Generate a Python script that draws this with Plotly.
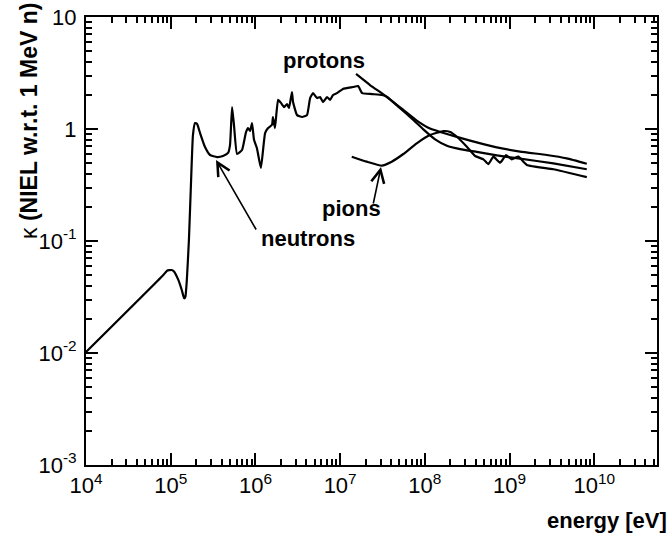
import plotly.graph_objects as go

# Neutron damage function (energy in eV, kappa relative to 1 MeV neutrons)
neutron_energy = [1.0e4, 8.18e4, 9.04e4, 1.03e5, 1.10e5, 1.23e5, 1.35e5, 1.44e5, 1.49e5, 1.55e5,
                  1.64e5, 1.74e5, 1.83e5, 1.94e5, 2.05e5, 2.22e5, 2.54e5, 2.91e5, 3.52e5, 4.14e5,
                  4.75e5, 5.01e5, 5.30e5, 5.58e5, 6.07e5, 6.95e5, 7.74e5, 8.18e5, 8.63e5, 9.12e5,
                  9.62e5, 1.04e6, 1.16e6, 1.30e6, 1.41e6, 1.57e6, 1.61e6, 1.70e6, 1.85e6, 2.00e6,
                  2.18e6, 2.36e6, 2.49e6, 2.70e6, 2.78e6, 3.10e6, 3.55e6, 4.06e6, 4.42e6, 4.79e6,
                  5.33e6, 5.79e6, 6.28e6, 7.00e6, 7.60e6, 8.24e6, 9.18e6, 1.08e7, 1.42e7, 1.63e7,
                  1.82e7, 2.38e7, 3.13e7, 3.58e7, 5.01e7, 7.08e7, 9.59e7, 1.32e8, 1.82e8, 2.61e8,
                  4.10e8, 7.06e8, 1.33e9, 3.29e9, 8.15e9]
neutron_kappa = [0.0102, 0.0497, 0.0543, 0.0551, 0.0532, 0.0449, 0.0365, 0.0308, 0.0318, 0.0449,
                 0.102, 0.351, 0.883, 1.13, 1.11, 0.92, 0.69, 0.586, 0.562, 0.574,
                 0.611, 0.719, 1.57, 1.09, 0.598, 0.649, 0.94, 1.02, 0.96, 1.13,
                 0.80, 0.676, 0.449, 0.92, 1.02, 1.09, 1.28, 1.02, 1.82, 1.71,
                 1.57, 1.67, 1.54, 2.14, 1.74, 1.33, 1.28, 1.33, 1.89, 2.09,
                 1.89, 1.93, 1.74, 1.93, 1.82, 2.01, 2.09, 2.28, 2.37, 2.42,
                 2.09, 2.05, 2.01, 1.93, 1.55, 1.23, 0.993, 0.809, 0.710, 0.662,
                 0.624, 0.582, 0.543, 0.493, 0.437]

# Proton damage function
proton_energy = [1.54e7, 2.25e7, 3.55e7, 5.57e7, 8.02e7, 1.15e8, 1.82e8, 3.42e8, 7.06e8,
                 1.33e9, 2.75e9, 4.73e9, 8.15e9]
proton_kappa = [3.10, 2.47, 1.94, 1.48, 1.19, 1.01, 0.902, 0.787, 0.686,
                0.628, 0.586, 0.547, 0.49]

# Pion damage function
pion_energy = [1.37e7, 2.06e7, 3.10e7, 4.06e7, 5.57e7, 8.02e7, 1.15e8, 1.66e8, 1.99e8, 2.38e8,
               3.13e8, 3.92e8, 4.91e8, 5.62e8, 6.44e8, 7.73e8, 9.10e8, 1.06e9, 1.27e9, 1.60e9,
               3.29e9, 8.15e9]
pion_kappa = [0.566, 0.511, 0.471, 0.511, 0.598, 0.745, 0.883, 0.959, 0.94, 0.853,
              0.695, 0.574, 0.536, 0.486, 0.566, 0.500, 0.586, 0.536, 0.566, 0.478,
              0.437, 0.372]

# Axis decades and labels
x_decades = [4, 5, 6, 7, 8, 9, 10]
x_ticktext = ["10<sup>4</sup>", "10<sup>5</sup>", "10<sup>6</sup>", "10<sup>7</sup>",
              "10<sup>8</sup>", "10<sup>9</sup>", "10<sup>10</sup>"]
y_decades = [-3, -2, -1, 0, 1]
y_ticktext = ["10<sup>-3</sup>", "10<sup>-2</sup>", "10<sup>-1</sup>", "1", "10"]

# Axis extents (log10 of energy in eV, log10 of kappa)
x_log_range = [4, 10.74]
y_log_range = [-3, 1]

line_style = dict(color="black", width=2.2)

fig = go.Figure()
for name, xs, ys in [("neutrons", neutron_energy, neutron_kappa),
                     ("protons", proton_energy, proton_kappa),
                     ("pions", pion_energy, pion_kappa)]:
    fig.add_trace(go.Scatter(x=xs, y=ys, mode="lines", name=name,
                             line=dict(shape="spline", smoothing=0.4, **line_style),
                             showlegend=False))

tick_font = dict(family="Liberation Sans, Arial, sans-serif", size=22, color="black")
label_font = dict(family="Liberation Sans, Arial, sans-serif", size=22, color="black")

common_axis = dict(type="log", showgrid=False, zeroline=False, showline=True,
                   linecolor="black", linewidth=2, mirror="ticks",
                   ticks="inside", ticklen=12, tickwidth=2, tickcolor="black",
                   tickfont=tick_font,
                   minor=dict(ticks="inside", tickmode="linear", dtick="D1",
                              ticklen=6, tickwidth=1.8, tickcolor="black", showgrid=False))

fig.update_xaxes(range=x_log_range, tickmode="array",
                 tickvals=[10 ** d for d in x_decades], ticktext=x_ticktext, **common_axis)
fig.update_yaxes(range=y_log_range, tickmode="array",
                 tickvals=[10 ** d for d in y_decades], ticktext=y_ticktext,
                 ticklabelstandoff=3, **common_axis)

annotations = [
    # curve labels
    dict(text="<b>protons</b>", x=324, y=61, showarrow=False),
    dict(text="<b>pions</b>", x=351, y=208, showarrow=False),
    dict(text="<b>neutrons</b>", x=308, y=238, showarrow=False),
    # axis titles
    dict(text="<b>energy [eV]</b>", x=669, y=520, xanchor="right", showarrow=False),
    dict(text="κ <b>(NIEL w.r.t. 1 MeV n)</b>", x=29, y=121, textangle=-90, showarrow=False),
]
for a in annotations:
    a.update(xref="paper", yref="paper", font=label_font)
    a.setdefault("xanchor", "center")
    a.update(yanchor="middle")
annotations[-1]["font"] = dict(label_font, size=23)

# pixel -> paper conversion for the fixed layout
W, H = 671, 534
ML, MR, MT, MB = 86, 14, 17, 69
PW, PH = W - ML - MR, H - MT - MB
for a in annotations:
    a["x"] = (a["x"] - ML) / PW
    a["y"] = (H - MB - a["y"]) / PH

# arrows pointing at the curves (head position in pixels, tail offset in pixels)
arrows = [((216, 160), (41, 71)), ((381, 167), (-8, 38))]
for (hx, hy), (dx, dy) in arrows:
    annotations.append(dict(text="", xref="paper", yref="paper",
                            x=(hx - ML) / PW, y=(H - MB - hy) / PH,
                            ax=dx, ay=dy, showarrow=True, arrowhead=5,
                            arrowsize=1.6, arrowwidth=1.6, arrowcolor="black"))

fig.update_layout(width=W, height=H, margin=dict(l=ML, r=MR, t=MT, b=MB, autoexpand=False),
                  paper_bgcolor="white", plot_bgcolor="white", annotations=annotations)

fig.write_html("out.html")
